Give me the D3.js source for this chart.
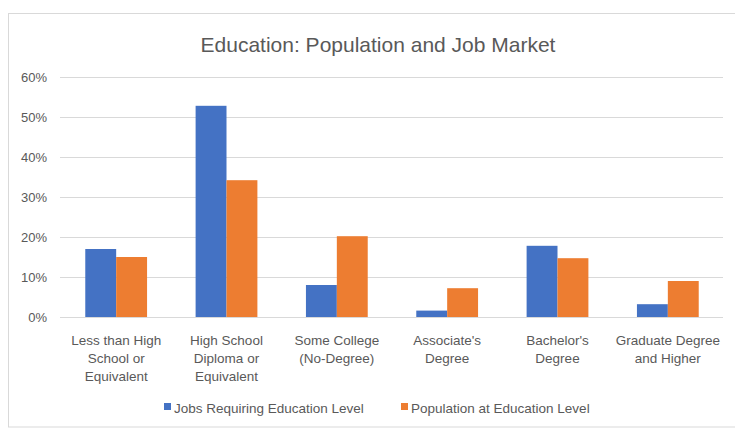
<!DOCTYPE html>
<html>
<head>
<meta charset="utf-8">
<script src="https://cdn.jsdelivr.net/npm/d3@7"></script>
<style>
  html, body { margin: 0; padding: 0; background: #fff; }
  svg { display: block; }
  text { font-family: "Liberation Sans", Arial, sans-serif; fill: #595959; }
</style>
</head>
<body>
<svg id="chart" width="735" height="430"></svg>
<script>
// Education levels on the x axis (each entry is a list of label lines)
const categories = [
  ["Less than High", "School or", "Equivalent"],
  ["High School", "Diploma or", "Equivalent"],
  ["Some College", "(No-Degree)"],
  ["Associate's", "Degree"],
  ["Bachelor's", "Degree"],
  ["Graduate Degree", "and Higher"]
];
const seriesNames = ["Jobs Requiring Education Level", "Population at Education Level"];
const jobsShare = [0.17, 0.528, 0.08, 0.016, 0.178, 0.032];
const populationShare = [0.15, 0.342, 0.202, 0.072, 0.147, 0.09];
const yTicks = [0, 0.1, 0.2, 0.3, 0.4, 0.5, 0.6];
const colors = ["#4472C4", "#ED7D31"];

const svg = d3.select("#chart");

// chart frame
svg.append("rect")
  .attr("x", 8.5).attr("y", 13.5)
  .attr("width", 740).attr("height", 413.5)
  .attr("fill", "none").attr("stroke", "#d9d9d9").attr("stroke-width", 1);

const plot = { left: 61, right: 723, top: 77, bottom: 317 };

const keys = categories.map((c, i) => i);
const x = d3.scaleBand().domain(keys).range([plot.left, plot.right])
  .paddingInner(0.44).paddingOuter(0.22);
const xs = d3.scaleBand().domain([0, 1]).range([0, x.bandwidth()]);
const y = d3.scaleLinear().domain([0, 0.6]).range([plot.bottom, plot.top]);

// title
svg.append("text")
  .attr("x", 378).attr("y", 52)
  .attr("text-anchor", "middle")
  .style("font-size", "21px")
  .text("Education: Population and Job Market");

// gridlines
svg.append("g")
  .selectAll("line").data(yTicks).join("line")
  .attr("x1", 60).attr("x2", 723)
  .attr("y1", d => Math.round(y(d)) + 0.5).attr("y2", d => Math.round(y(d)) + 0.5)
  .attr("stroke", "#d9d9d9").attr("stroke-width", 1);

// y axis labels
const yAxis = d3.axisLeft(y).tickValues(yTicks).tickFormat(d3.format(".0%")).tickSize(0).tickPadding(0);
const yg = svg.append("g").attr("transform", "translate(47,0)").call(yAxis);
yg.select(".domain").remove();
yg.selectAll("text").style("font-size", "13px").style("fill", "#595959").style("font-family", "Liberation Sans, Arial, sans-serif");

// bars
const series = [jobsShare, populationShare];
series.forEach((vals, s) => {
  svg.append("g").selectAll("rect").data(vals).join("rect")
    .attr("x", (d, i) => x(i) + xs(s))
    .attr("width", xs.bandwidth())
    .attr("y", d => y(d))
    .attr("height", d => y(0) - y(d))
    .attr("fill", colors[s]);
});

// x axis category labels
const xg = svg.append("g");
categories.forEach((lines, i) => {
  const t = xg.append("text")
    .attr("text-anchor", "middle")
    .attr("x", x(i) + x.bandwidth() / 2)
    .attr("y", 345)
    .style("font-size", "13.5px");
  lines.forEach((line, j) => {
    t.append("tspan")
      .attr("x", x(i) + x.bandwidth() / 2)
      .attr("dy", j === 0 ? 0 : 18)
      .text(line);
  });
});

// legend
const legendX = [164, 401];
seriesNames.forEach((name, s) => {
  const g = svg.append("g").attr("transform", `translate(${legendX[s]},0)`);
  g.append("rect").attr("x", 0).attr("y", 403).attr("width", 7).attr("height", 7).attr("fill", colors[s]);
  g.append("text").attr("x", 10).attr("y", 412.5).style("font-size", "13.5px").text(name);
});
</script>
</body>
</html>
